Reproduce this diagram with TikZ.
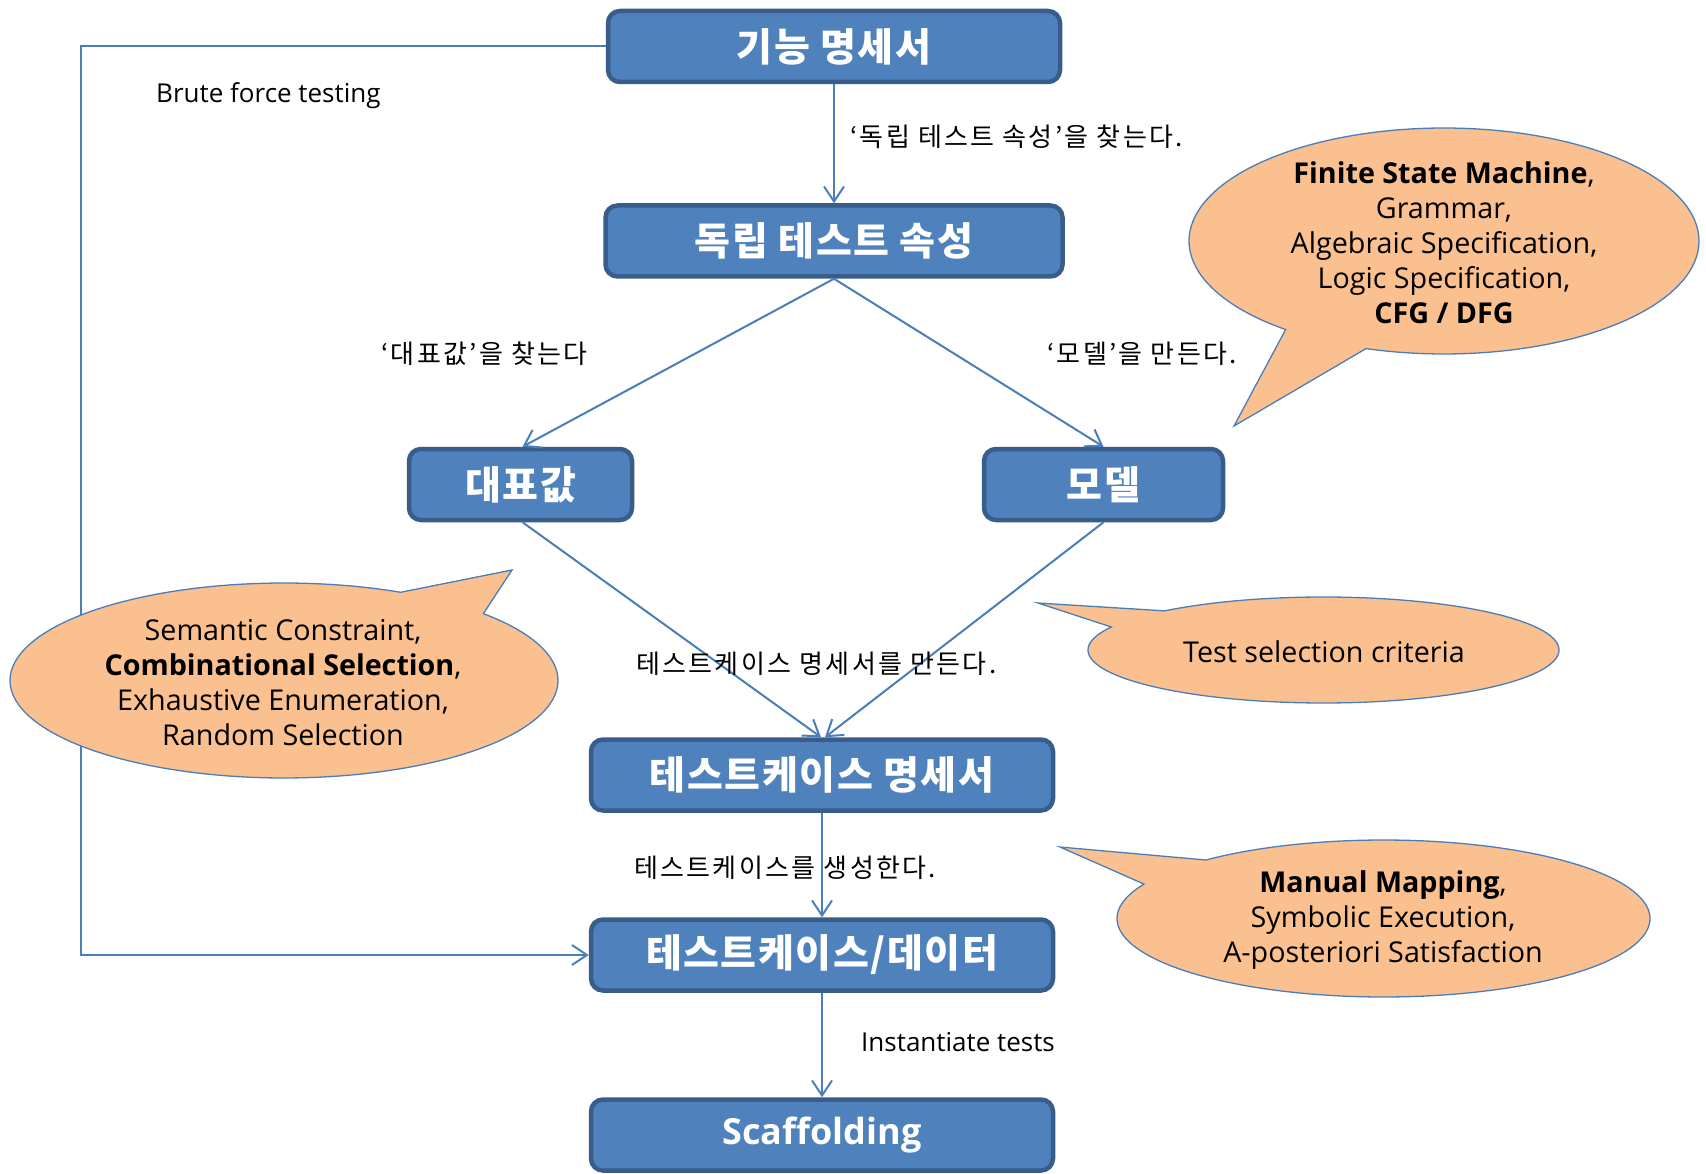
\documentclass[tikz,border=0pt]{standalone}
\usepackage{fontspec}
\setmainfont{Open Sans}
\newfontfamily\kr{Noto Sans CJK KR}[LetterSpace=9]
\newfontfamily\krb{Noto Sans CJK KR}[LetterSpace=4]
\usetikzlibrary{arrows.meta}
\definecolor{boxfill}{HTML}{4F81BD}
\definecolor{boxline}{HTML}{385D8A}
\definecolor{arrline}{HTML}{4A7EBB}
\definecolor{callfill}{HTML}{FAC090}
\begin{document}
\begin{tikzpicture}[x=1pt,y=-1pt,
  box/.style={draw=boxline, line width=4.5pt, fill=boxfill, rounded corners=12pt, text=white,
    font=\krb\bfseries\fontsize{39}{43}\selectfont, minimum height=71pt, inner sep=0pt},
  conn/.style={draw=arrline, line width=2pt, -{Straight Barb[length=15pt,width=20pt,line width=2pt]}},
  lbl/.style={font=\kr\fontsize{26}{30}\selectfont, anchor=west, inner sep=0pt},
  elbl/.style={font=\fontsize{26}{30}\selectfont, anchor=west, inner sep=0pt},
  calltext/.style={font=\fontsize{28.7}{35}\selectfont, align=center, inner sep=0pt},
  callout/.style={fill=callfill, draw=arrline, line width=1.3pt, line join=miter},
]
\fill[white] (0,0) rectangle (1706,1174);
\useasboundingbox (0,0) rectangle (1706,1174);

% boxes
\node[box, minimum width=452pt] (b1) at (834,46.5) {\raisebox{-2pt}{기능 명세서}};
\node[box, minimum width=457pt] (b2) at (834,241) {\raisebox{-2pt}{독립 테스트 속성}};
\node[box, minimum width=223pt] (b3) at (520.5,484.5) {\raisebox{-2pt}{대표값}};
\node[box, minimum width=239pt] (b4) at (1103.5,484.5) {\raisebox{-2pt}{모델}};
\node[box, minimum width=462pt] (b5) at (822,775) {\raisebox{-2pt}{테스트케이스 명세서}};
\node[box, minimum width=462pt] (b6) at (822,955) {\raisebox{-2pt}{테스트케이스/데이터}};
\node[box, minimum width=462pt, font=\bfseries\fontsize{36}{40}\selectfont] (b7) at (822,1135) {Scaffolding};

% connectors
\coordinate (bf) at (80.5,46.5);
\draw[conn] (b1.west) -- (bf) |- (b6.west);
\draw[conn] (b1.south) -- (b2.north);
\draw[conn] (b2.south) -- ([xshift=2pt]b3.north);
\draw[conn] (b2.south) -- (b4.north);
\draw[conn] ([xshift=2pt]b3.south) -- ([xshift=-1pt]b5.north);
\draw[conn] (b4.south) -- ([xshift=3pt]b5.north);
\draw[conn] (b5.south) -- (b6.north);
\draw[conn] (b6.south) -- (b7.north);

% labels
\node[elbl] (l0) at (156,96) {Brute force testing};
\node[lbl] (l1) at (850,137) {‘독립 테스트 속성’을 찾는다.};
\node[lbl] (l2) at (381,354) {‘대표값’을 찾는다};
\node[lbl] (l3) at (1047,354) {‘모델’을 만든다.};
\node[lbl] (l4) at (636,664) {테스트케이스 명세서를 만든다.};
\node[lbl] (l5) at (634,868) {테스트케이스를 생성한다.};
\node[elbl] (l6) at (861,1042) {Instantiate tests};

% callouts
\path[callout] (1234,426) -- plot[domain=128.4:467.8, samples=150] ({1444+255*cos(\x)},{241+113*sin(\x)}) -- cycle;
\path[callout] (512,570) -- plot[domain=-43.3:295.2, samples=150] ({284+274*cos(\x)},{680.5+97.5*sin(\x)}) -- cycle;
\path[callout] (1038,603) -- plot[domain=-132.4:205.7, samples=150] ({1323.5+235.5*cos(\x)},{650+53*sin(\x)}) -- cycle;
\path[callout] (1060,847) -- plot[domain=-131.8:206, samples=150] ({1383.5+266.5*cos(\x)},{918.5+78.5*sin(\x)}) -- cycle;

\node[calltext] (tA) at (1444,243) {\textbf{Finite State Machine},\\Grammar,\\Algebraic Specification,\\Logic Specification,\\\textbf{CFG / DFG}};
\node[calltext] (tB) at (283,683) {Semantic Constraint,\\\textbf{Combinational Selection},\\Exhaustive Enumeration,\\Random Selection};
\node[calltext] (tC) at (1324,652) {Test selection criteria};
\node[calltext] (tD) at (1383,920) {\textbf{Manual Mapping},\\Symbolic Execution,\\A-posteriori Satisfaction};
\end{tikzpicture}
\end{document}
